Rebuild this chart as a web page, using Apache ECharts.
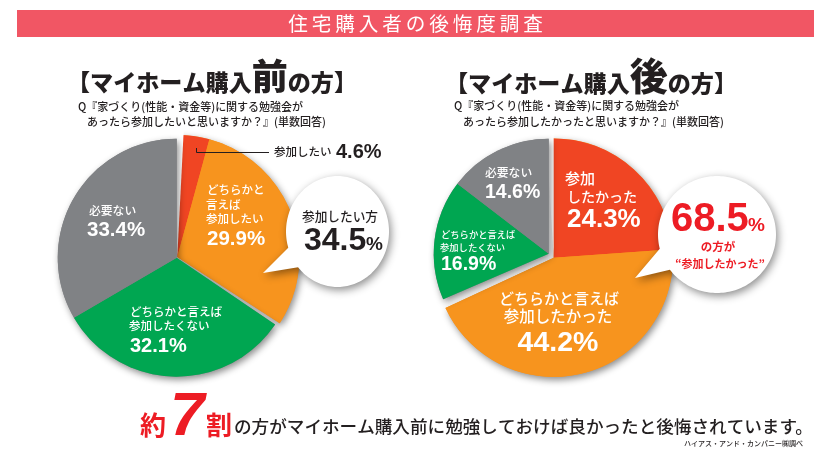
<!DOCTYPE html>
<html><head><meta charset="utf-8">
<script src="https://cdn.jsdelivr.net/npm/echarts@6/dist/echarts.min.js"></script>
<style>html,body{margin:0;padding:0;background:#fff}#c{width:832px;height:461px}</style>
</head><body><div id="c"></div>
<script>
const beforeValues = [4.6, 29.9, 32.1, 33.4];
const afterValues = [24.3, 44.2, 16.9, 14.6];
const beforeTotal = 34.5;
const afterTotal = 68.5;
const beforeColors = ['#F04523', '#F7941E', '#00A651', '#808285'];
const afterColors = ['#F04523', '#F7941E', '#00A651', '#808285'];

const JP = '"Noto Sans CJK JP"';
const NUM = '"Liberation Sans"';
const INK = '#231F20';
const RED = '#ED1C24';
const CLEAR = 'rgba(0,0,0,0)';
const SHADOW = {shadowBlur: 7, shadowOffsetX: 2, shadowOffsetY: 3, shadowColor: 'rgba(0,0,0,0.45)'};

function pie(center, r, offset, slices) {
  return {
    type: 'pie', center, radius: [0, r], startAngle: 90 - offset, clockwise: true,
    silent: true, animation: false, label: {show: false}, labelLine: {show: false},
    emphasis: {disabled: true}, avoidLabelOverlap: false,
    data: slices.map(s => ({value: s.value, itemStyle: Object.assign({color: s.color || CLEAR}, s.style || {})}))
  };
}
function panel(values, colors, c1, r1, off1, c2, r2, gap) {
  const a = values[0] + values[1], b = values[2] + values[3];
  const gapPct = (gap[1] - gap[0]) / 3.6;
  return [
    pie(c1, r1, off1, [{value: a, color: colors[1], style: SHADOW}, {value: b}]),
    pie(c1, r1, off1, [{value: values[0], color: colors[0]}, {value: values[1], color: colors[1]}, {value: b}]),
    pie(c1, r1 + 5, gap[0], [{value: gapPct, color: '#fff'}, {value: 100 - gapPct}]),
    pie(c2, r2, 0, [{value: a}, {value: b, color: colors[3], style: SHADOW}]),
    pie(c2, r2, 0, [{value: a}, {value: values[2], color: colors[2]}, {value: values[3], color: colors[3]}])
  ];
}
let Z = 20;
function t(x, y, text, size, o) {
  o = o || {};
  return {type: 'text', z: Z++, silent: true, style: {
    x, y, text, fontSize: size, fontFamily: o.font || JP, fontWeight: o.weight || 500,
    fill: o.fill || '#fff', align: o.align || 'left', verticalAlign: 'middle'
  }};
}
function num(x, y, text, size, o) {
  return t(x, y, text, size, Object.assign({font: NUM, weight: 700}, o || {}));
}
function heading(x, y, big, bigSize) {
  const a = {fontFamily: JP, fontWeight: 900, fontSize: 23.1, fill: INK, verticalAlign: 'bottom'};
  return {type: 'text', z: Z++, silent: true, style: {
    x, y, text: '{a|【マイホーム購入}{b|' + big + '}{a|の方】}', align: 'left', verticalAlign: 'middle',
    rich: {a, b: Object.assign({}, a, {fontSize: bigSize})}
  }};
}
function bubble(cx, cy, rx, ry, tip, a1, a2) {
  const at = a => [cx + rx * Math.cos(a * Math.PI / 180), cy + ry * Math.sin(a * Math.PI / 180)];
  const pts = [tip, at(a1)];
  for (let a = a1 + 2; a < a2 + 360; a += 2) pts.push(at(a));
  pts.push(at(a2));
  return {type: 'polygon', z: Z++, silent: true, shape: {points: pts},
    style: Object.assign({fill: '#fff'}, SHADOW, {shadowBlur: 9})};
}

const graphics = [
  {type: 'rect', z: Z++, silent: true, shape: {x: 17, y: 10, width: 797, height: 27}, style: {fill: '#F15664'}},
  t(415.5, 23.5, '住\u2009宅\u2009購\u2009入\u2009者\u2009の\u2009後\u2009悔\u2009度\u2009調\u2009査', 19.6, {weight: 400, align: 'center'}),

  heading(67, 76, '前', 36),
  t(78, 107, 'Q『家づくり(性能・資金等)に関する勉強会が', 11, {fill: INK}),
  t(87, 122, 'あったら参加したいと思いますか？』(単数回答)', 11, {fill: INK}),
  heading(445, 76, '後', 38),
  t(454, 106, 'Q『家づくり(性能・資金等)に関する勉強会が', 11, {fill: INK}),
  t(463, 122, 'あったら参加したかったと思いますか？』(単数回答)', 11, {fill: INK}),

  // before pie labels
  {type: 'polyline', z: Z++, silent: true, shape: {points: [[196.5, 148], [196.5, 152.5], [269, 152.5]]}, style: {stroke: INK, lineWidth: 1, fill: null}},
  t(274, 152, '参加したい', 11.5, {fill: INK}),
  num(336, 152, beforeValues[0] + '%', 20, {fill: INK}),
  t(207, 190, 'どちらかと', 11.5), t(206, 205, '言えば', 11.5), t(206, 219, '参加したい', 11.5),
  num(207, 239, beforeValues[1] + '%', 20.5),
  t(130, 312, 'どちらかと言えば', 11.5), t(129, 326, '参加したくない', 11.5),
  num(130, 346, beforeValues[2] + '%', 20),
  t(89, 211, '必要ない', 11.8),
  num(87, 230, beforeValues[3] + '%', 20.5),

  // after pie labels
  t(565, 178, '参加', 15), t(567, 197, 'したかった', 14),
  num(567, 220, afterValues[0] + '%', 26),
  t(559, 298, 'どちらかと言えば', 15, {align: 'center'}), t(558, 316, '参加したかった', 15.5, {align: 'center'}),
  num(558, 343, afterValues[1] + '%', 28.5, {align: 'center'}),
  t(441, 234, 'どちらかと言えば', 9.3), t(440, 247, '参加したくない', 9.3),
  num(441, 265, afterValues[2] + '%', 19.5),
  t(485, 173, '必要ない', 11.8),
  num(485, 193, afterValues[3] + '%', 19.5),

  // callouts
  bubble(337.5, 231.5, 51.5, 55.5, [263, 273], 163, 140),
  t(340, 216, '参加したい方', 12.7, {fill: INK, align: 'center'}),
  num(304, 241, beforeTotal.toString(), 32, {fill: INK}),
  num(366, 245, '%', 19, {fill: INK}),
  bubble(717, 234.5, 59, 58.5, [635, 278], 166, 143),
  num(671, 220, afterTotal.toString(), 40, {fill: RED}),
  num(748, 226, '%', 19, {fill: RED}),
  t(718, 247, 'の方が', 11.5, {fill: RED, weight: 700, align: 'center'}),
  t(720, 264, '“参加したかった”', 11, {fill: RED, weight: 700, align: 'center'}),

  // bottom line
  t(140, 425, '約', 26, {fill: RED, weight: 700}),
  {type: 'text', z: Z++, silent: true, style: {x: 170, y: 418, text: '7', fontFamily: NUM, fontStyle: 'italic', fontWeight: 700, fontSize: 62, fill: RED, align: 'left', verticalAlign: 'middle'}},
  t(206, 425, '割', 26, {fill: RED, weight: 700}),
  t(234, 426, 'の方がマイホーム購入前に勉強しておけば良かったと後悔されています。', 17.6, {fill: INK}),
  t(803, 443, 'ハイアス・アンド・カンパニー㈱調べ', 7, {fill: INK, align: 'right'})
];

const chart = echarts.init(document.getElementById('c'), null, {renderer: 'canvas'});
chart.setOption({
  animation: false,
  backgroundColor: '#fff',
  series: [].concat(
    panel(beforeValues, beforeColors, [177.3, 257], 122, -1.3, [176.7, 257.7], 119, [-3, 2.9]),
    panel(afterValues, afterColors, [553.7, 257.7], 119.3, -1.5, [548.7, 253.7], 115, [-3.5, 0])
  ),
  graphic: graphics
});
</script></body></html>
